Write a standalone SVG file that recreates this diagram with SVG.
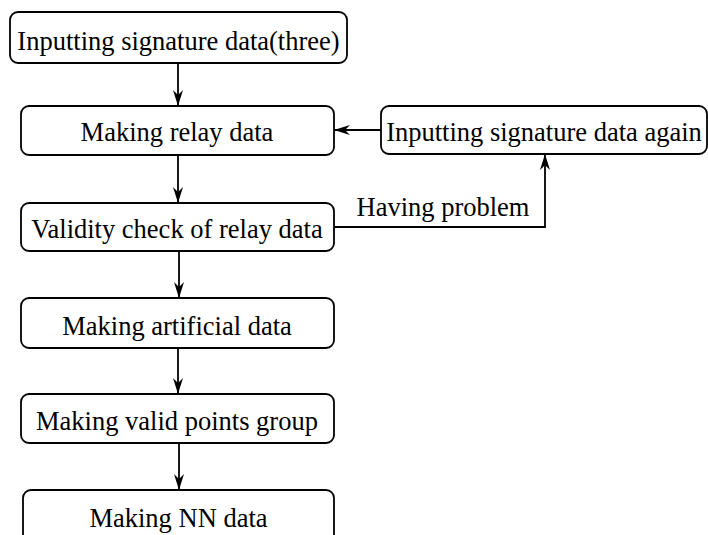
<svg xmlns="http://www.w3.org/2000/svg" width="708" height="535" viewBox="0 0 708 535">
<style>
.box{fill:#fff;stroke:#000;stroke-width:1.8}
.c{fill:none;stroke:#000;stroke-width:1.8}
</style>
<defs>
<marker id="ah" viewBox="0 0 16 10" refX="16" refY="5" markerWidth="16" markerHeight="10" markerUnits="userSpaceOnUse" orient="auto">
<path d="M0,0 L16,5 L0,10 L5,5 Z" fill="#000"/>
</marker>
</defs>
<rect width="708" height="535" fill="#fff"/>
<g id="connectors">
<line class="c" x1="178" y1="63" x2="178" y2="106" marker-end="url(#ah)"/>
<line class="c" x1="381" y1="130" x2="334" y2="130" marker-end="url(#ah)"/>
<line class="c" x1="178" y1="155" x2="178" y2="203" marker-end="url(#ah)"/>
<polyline class="c" points="334,227 545,227 545,154" marker-end="url(#ah)"/>
<text x="443" y="216" font-family="Liberation Serif, Times New Roman, serif" font-size="26.5" text-anchor="middle">Having problem</text>
<line class="c" x1="179" y1="251" x2="179" y2="298" marker-end="url(#ah)"/>
<line class="c" x1="178" y1="348" x2="178" y2="394" marker-end="url(#ah)"/>
<line class="c" x1="179" y1="443" x2="179" y2="490" marker-end="url(#ah)"/>
</g>
<g font-family="Liberation Serif, Times New Roman, serif" font-size="26.5" text-anchor="middle" fill="#000">
<g id="n1"><rect class="box" x="10" y="12" width="337" height="51" rx="8"/><text x="178.5" y="50">Inputting signature data(three)</text></g>
<g id="n2"><rect class="box" x="21" y="106" width="313" height="49" rx="8"/><text x="177" y="141">Making relay data</text></g>
<g id="n3"><rect class="box" x="381" y="106" width="326" height="48" rx="8"/><text x="544" y="141">Inputting signature data again</text></g>
<g id="n4"><rect class="box" x="21" y="203" width="313" height="48" rx="8"/><text x="177" y="238">Validity check of relay data</text></g>
<g id="n5"><rect class="box" x="21" y="298" width="313" height="50" rx="8"/><text x="177" y="335">Making artificial data</text></g>
<g id="n6"><rect class="box" x="21" y="394" width="313" height="49" rx="8"/><text x="177" y="430">Making valid points group</text></g>
<g id="n7"><rect class="box" x="23" y="490" width="311" height="60" rx="8"/><text x="178.5" y="527">Making NN data</text></g>
</g>
</svg>
